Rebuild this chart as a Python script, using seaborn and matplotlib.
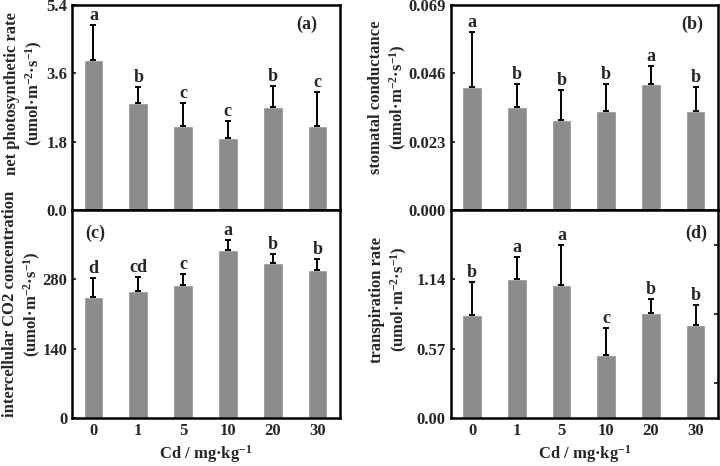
import numpy as np
import pandas as pd
import matplotlib
matplotlib.use("Agg")
import matplotlib.pyplot as plt
import seaborn as sns

# ----------------------------------------
# Datos (media y error superior)
cd_levels = ["0", "1", "5", "10", "20", "30"]

pn_mean = [3.95, 2.82, 2.21, 1.90, 2.71, 2.21]
pn_err = [0.93, 0.43, 0.62, 0.46, 0.55, 0.89]
pn_sig = ["a", "b", "c", "c", "b", "c"]

gs_mean = [0.0415, 0.0346, 0.0305, 0.0335, 0.0425, 0.0335]
gs_err = [0.0183, 0.0077, 0.0100, 0.0088, 0.0060, 0.0079]
gs_sig = ["a", "b", "b", "b", "a", "b"]

ci_mean = [245, 256, 268, 339, 314, 300]
ci_err = [37, 29, 23, 20, 17, 22]
ci_sig = ["d", "cd", "c", "a", "b", "b"]

tr_mean = [0.851, 1.145, 1.096, 0.520, 0.862, 0.765]
tr_err = [0.267, 0.179, 0.326, 0.223, 0.115, 0.168]
tr_sig = ["b", "a", "a", "c", "b", "b"]

sns.set_style("ticks")
plt.rcParams["font.family"] = ["Liberation Serif", "DejaVu Serif"]
plt.rcParams["font.weight"] = "bold"
plt.rcParams["mathtext.fontset"] = "custom"
plt.rcParams["mathtext.rm"] = "Liberation Serif:bold"
plt.rcParams["mathtext.default"] = "rm"

unit = "(umol·m$^{-2}$·s$^{-1}$)"

# (nombre, medias, errores, letras, ylim, yticks, formato, etiqueta, panel)
panels = [
    ("pn", pn_mean, pn_err, pn_sig, 5.4, [0, 1.8, 3.6, 5.4], "%.1f",
     "net photosynthetic rate", "(a)"),
    ("gs", gs_mean, gs_err, gs_sig, 0.069, [0, 0.023, 0.046, 0.069], "%.3f",
     "stomatal conductance", "(b)"),
    ("ci", ci_mean, ci_err, ci_sig, 420, [0, 140, 280], "%d",
     "intercellular CO2 concentration", "(c)"),
    ("tr", tr_mean, tr_err, tr_sig, 1.71, [0, 0.57, 1.14], "%.2f",
     "transpiration rate", "(d)"),
]

fig = plt.figure(figsize=(7.2, 4.66), dpi=100)
rects = [
    [0.100, 0.549, 0.372, 0.440],
    [0.626, 0.549, 0.371, 0.440],
    [0.100, 0.103, 0.372, 0.446],
    [0.626, 0.103, 0.371, 0.446],
]
label_x = [-0.100, -0.157, -0.108, -0.154]
label_y = [0.57, 0.55, 0.55, 0.57]
tag_pos = [(0.877, 0.907), (0.906, 0.907), (0.086, 0.89), (0.92, 0.89)]

for i, (name, mean, err, sig, ymax, yt, fmt, ylab, tag) in enumerate(panels):
    ax = fig.add_axes(rects[i])
    df = pd.DataFrame({"Cd": cd_levels, "valor": mean})
    sns.barplot(data=df, x="Cd", y="valor", color="#8c8c8c", saturation=1,
                width=0.44, errorbar=None, ax=ax)
    pos = np.arange(len(cd_levels))
    ax.errorbar(pos, mean, yerr=[np.zeros(len(err)), err], fmt="none",
                ecolor="black", elinewidth=1.4, capsize=2, capthick=1.4)
    for x, m, e, s in zip(pos, mean, err, sig):
        ax.text(x, m + e + ymax * 0.005, s, ha="center", va="bottom",
                fontsize=13, fontweight="bold")

    ax.set_ylim(0, ymax)
    ax.set_xlim(-0.48, 5.5)
    ax.set_yticks(yt)
    ax.set_yticklabels([fmt % v for v in yt], fontsize=12, fontweight="bold")
    ax.tick_params(direction="in", length=3, width=1.3)
    for sp in ax.spines.values():
        sp.set_visible(True)
        sp.set_linewidth(1.8)
        sp.set_color("black")

    ax.set_ylabel(ylab + "\n" + unit, fontsize=12, fontweight="bold",
                  linespacing=1.25)
    ax.yaxis.set_label_coords(label_x[i], label_y[i])
    ax.text(tag_pos[i][0], tag_pos[i][1], tag, transform=ax.transAxes,
            ha="center", va="center", fontsize=13, fontweight="bold")

    if i < 2:
        ax.set_xticklabels([])
        ax.set_xlabel("")
    else:
        ax.set_xticklabels(cd_levels, fontsize=12, fontweight="bold")
        ax.set_xlabel("Cd / mg·kg$^{-1}$", fontsize=12, fontweight="bold",
                      labelpad=3)

    if name == "tr":
        ax.set_yticks([0.285, 0.855, 1.425], minor=True)
        ax.tick_params(which="minor", left=False, right=True,
                       direction="in", length=3, width=1.3)

fig.savefig("out.png", dpi=100)
plt.close(fig)
